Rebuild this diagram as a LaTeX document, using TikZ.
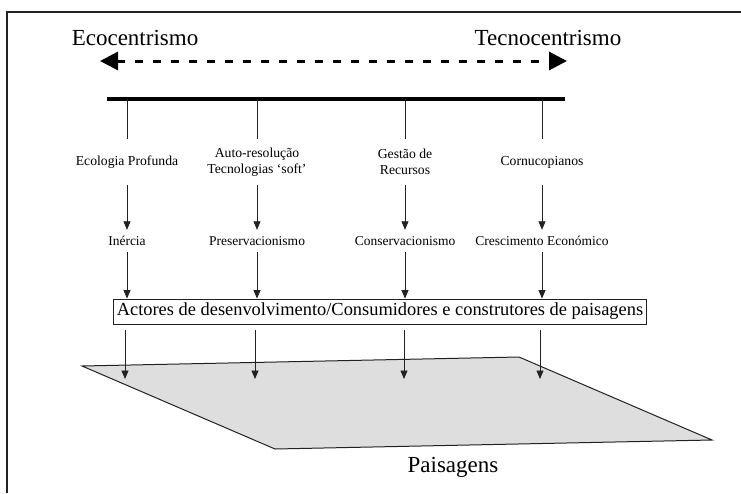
\documentclass[tikz,border=0pt]{standalone}
\usepackage{fontspec}
\setmainfont{Liberation Serif}
\usetikzlibrary{arrows.meta}
\definecolor{plane}{HTML}{DEDEDE}
\definecolor{ink}{HTML}{222222}
\tikzset{
  title/.style={font=\fontsize{23}{26}\selectfont, inner sep=0pt},
  stance/.style={font=\fontsize{13.7}{15.5}\selectfont, align=center, minimum height=46pt, inner sep=0pt},
  mode/.style={font=\fontsize{13.5}{15.5}\selectfont, minimum height=22pt, inner sep=0pt},
  actors/.style={draw=ink, line width=0.9pt, font=\fontsize{18.4}{20}\selectfont, minimum height=25pt, inner sep=3pt},
  link/.style={draw=ink, line width=0.8pt},
  flow/.style={link, -{Triangle[length=8.5pt,width=7pt]}},
}
\begin{document}
\begin{tikzpicture}[x=1pt,y=-1pt]
\useasboundingbox (0,0) rectangle (741,493);
% outer frame (top and left edges)
\draw[ink, line width=1.2pt] (741,12) -- (7,12) -- (7,493);

% spectrum between the two poles
\node[title] (eco) at (135,38) {Ecocentrismo};
\node[title] (tec) at (548,38) {Tecnocentrismo};
\coordinate (dl) at (100,61);
\coordinate (dr) at (567,61);
\draw[line width=3pt, dash pattern=on 8pt off 10pt,
      {Triangle[length=18pt,width=18pt]}-{Triangle[length=18pt,width=18pt]}] (dl) -- (dr);

% thick axis with its four taps
\coordinate (barL) at (107,99);
\coordinate (barR) at (565,99);
\draw[line width=4pt] (barL) -- (barR);
\coordinate (t1) at (127,99);
\coordinate (t2) at (257,99);
\coordinate (t3) at (405,99);
\coordinate (t4) at (542,99);

% positions on the axis
\node[stance] (s1) at (127,162) {Ecologia Profunda};
\node[stance] (s2) at (257,162) {Auto-resolução\\Tecnologias `soft'};
\node[stance] (s3) at (405,162) {Gestão de\\Recursos};
\node[stance] (s4) at (542,162) {Cornucopianos};

% resulting attitudes
\node[mode] (m1) at (127,241) {Inércia};
\node[mode] (m2) at (257,241) {Preservacionismo};
\node[mode] (m3) at (405,241) {Conservacionismo};
\node[mode] (m4) at (542,241) {Crescimento Económico};

% actors box
\node[actors] (act) at (380,311.5) {Actores de desenvolvimento/Consumidores e construtores de paisagens};

% landscape plane
\coordinate (pa) at (82,366);
\coordinate (pb) at (519,357);
\coordinate (pc) at (712,440);
\coordinate (pd) at (275,449);
\draw[fill=plane, draw=ink, line width=1pt] (pa) -- (pb) -- (pc) -- (pd) -- cycle;
\node[title] (pais) at (453,467) {Paisagens};

\coordinate (g1) at (125,379);
\coordinate (g2) at (255,379);
\coordinate (g3) at (404,379);
\coordinate (g4) at (540,379);

% connectors
\foreach \i in {1,2,3,4}{
  \draw[link] (t\i) -- (s\i.north);
  \draw[flow] (s\i.south) -- (m\i.north);
  \draw[flow] (m\i.south) -- (m\i.south |- act.north);
}
\foreach \i in {1,2,3,4}{
  \draw[flow] (g\i |- act.south) ++(0,6) -- (g\i);
}
\end{tikzpicture}
\end{document}
